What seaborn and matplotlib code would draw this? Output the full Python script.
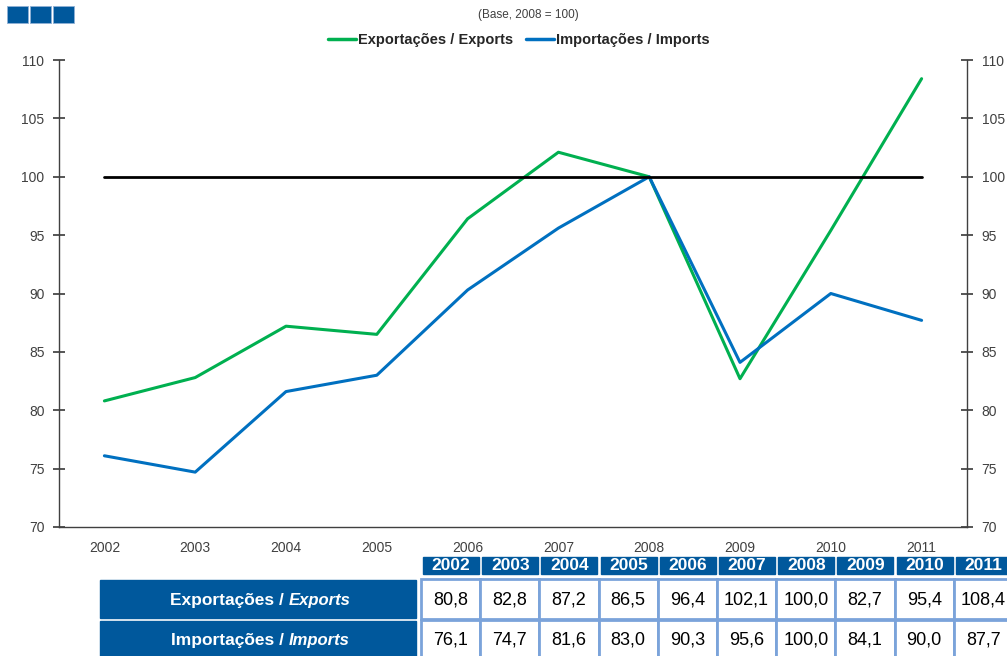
import numpy as np
import pandas as pd
import matplotlib
matplotlib.use('Agg')
import matplotlib.pyplot as plt
import seaborn as sns
from matplotlib.patches import Rectangle
from matplotlib.lines import Line2D

# --- DATA ---
years = [2002, 2003, 2004, 2005, 2006, 2007, 2008, 2009, 2010, 2011]
exports = [80.8, 82.8, 87.2, 86.5, 96.4, 102.1, 100.0, 82.7, 95.4, 108.4]
imports = [76.1, 74.7, 81.6, 83.0, 90.3, 95.6, 100.0, 84.1, 90.0, 87.7]
base = [100] * len(years)
series_names = ['Exportações / Exports', 'Importações / Imports']
row_pt = ['Exportações /', 'Importações /']
row_en = ['Exports', 'Imports']
y_ticks = [70, 75, 80, 85, 90, 95, 100, 105, 110]

GREEN = '#00B050'
BLUE = '#0070C0'
NAVY = '#00589C'
CELL_EDGE = '#7BA3DA'

sns.set_theme(style='white')
plt.rcParams['font.family'] = ['Liberation Sans', 'DejaVu Sans']

W, H = 1007, 656
fig = plt.figure(figsize=(W / 100, H / 100), dpi=100)

def fx(x):
    return x / W

def fy(y):
    return 1 - y / H

ax = fig.add_axes([fx(59), fy(527), fx(967) - fx(59), fy(60) - fy(527)])

df = pd.DataFrame({'Ano': years * 2,
                   'Valor': exports + imports,
                   'Serie': [series_names[0]] * len(years) + [series_names[1]] * len(years)})
df['pos'] = df['Ano'] - years[0]

sns.lineplot(data=df, x='pos', y='Valor', hue='Serie', palette=[GREEN, BLUE],
             linewidth=2.2, ax=ax, legend=False)
ax.plot(np.arange(len(years)), base, color='black', lw=2)

ax.set_xlim(-0.5, len(years) - 0.5)
ax.set_ylim(70, 110)
ax.set_xticks(np.arange(len(years) + 1) - 0.5)
ax.set_xticklabels([])
ax.set_xticks(np.arange(len(years)), minor=True)
ax.set_xticklabels([str(y) for y in years], minor=True)
ax.tick_params(axis='x', which='minor', length=0, pad=10, labelsize=10, labelcolor='#404040')
ax.tick_params(axis='x', which='major', direction='inout', length=9, color='#404040', width=1)
ax.set_yticks(y_ticks)
ax.tick_params(axis='y', direction='inout', length=9, color='#404040', labelsize=10, pad=6,
               labelcolor='#404040', left=True, right=True, labelleft=True, labelright=True)
ax.set_xlabel('')
ax.set_ylabel('')
for s in ['left', 'right', 'bottom']:
    ax.spines[s].set_visible(True)
    ax.spines[s].set_color('#404040')
    ax.spines[s].set_linewidth(1)
ax.spines['top'].set_visible(False)

# legend
handles = [Line2D([0], [0], color=GREEN, lw=2.5), Line2D([0], [0], color=BLUE, lw=2.5)]
leg = fig.legend(handles, series_names, loc='center', bbox_to_anchor=(fx(519), fy(40)),
                 ncol=2, frameon=False, handlelength=1.9, handletextpad=0.15, columnspacing=0.9,
                 prop={'size': 10.5, 'weight': 'bold', 'stretch': 'condensed'})

fig.text(fx(528), fy(15), '(Base, 2008 = 100)', ha='center', va='center', fontsize=8.5, color='#404040')

# logo squares
for i in range(3):
    fig.add_artist(Rectangle((fx(7 + i * 23), fy(23)), fx(21), fy(6) - fy(23),
                             transform=fig.transFigure, facecolor=NAVY,
                             edgecolor='#8FB0D6', lw=0.6))

# --- TABLE ---
col_x0 = 423
col_step = 59.2
for i, yr in enumerate(years):
    x0 = col_x0 + i * col_step
    fig.add_artist(Rectangle((fx(x0), fy(574)), fx(56), fy(557) - fy(574),
                             transform=fig.transFigure, color=NAVY))
    fig.text(fx(x0 + 28), fy(566), str(yr), ha='center', va='center',
             fontsize=12.5, color='white', weight='bold')

rows = [exports, imports]
row_top = [579, 620]
row_h = [40, 38]
for r, vals in enumerate(rows):
    top = row_top[r]
    h = row_h[r]
    fig.add_artist(Rectangle((fx(100), fy(top + h - 1)), fx(316), fy(top + 1) - fy(top + h - 1),
                             transform=fig.transFigure, color=NAVY))
    cy = top + h / 2 + 1
    fig.text(fx(284), fy(cy), row_pt[r], ha='right', va='center', fontsize=12.5,
             color='white', weight='bold')
    fig.text(fx(289), fy(cy), row_en[r], ha='left', va='center', fontsize=12,
             color='white', weight='bold', style='italic')
    for i, v in enumerate(vals):
        x0 = col_x0 - 2 + i * col_step
        fig.add_artist(Rectangle((fx(x0), fy(top + h)), fx(col_step), fy(top) - fy(top + h),
                                 transform=fig.transFigure, facecolor='white',
                                 edgecolor=CELL_EDGE, lw=2))
        fig.text(fx(x0 + col_step / 2), fy(cy), f'{v:.1f}'.replace('.', ','),
                 ha='center', va='center', fontsize=13, color='black')

fig.savefig('out.png', dpi=100)
